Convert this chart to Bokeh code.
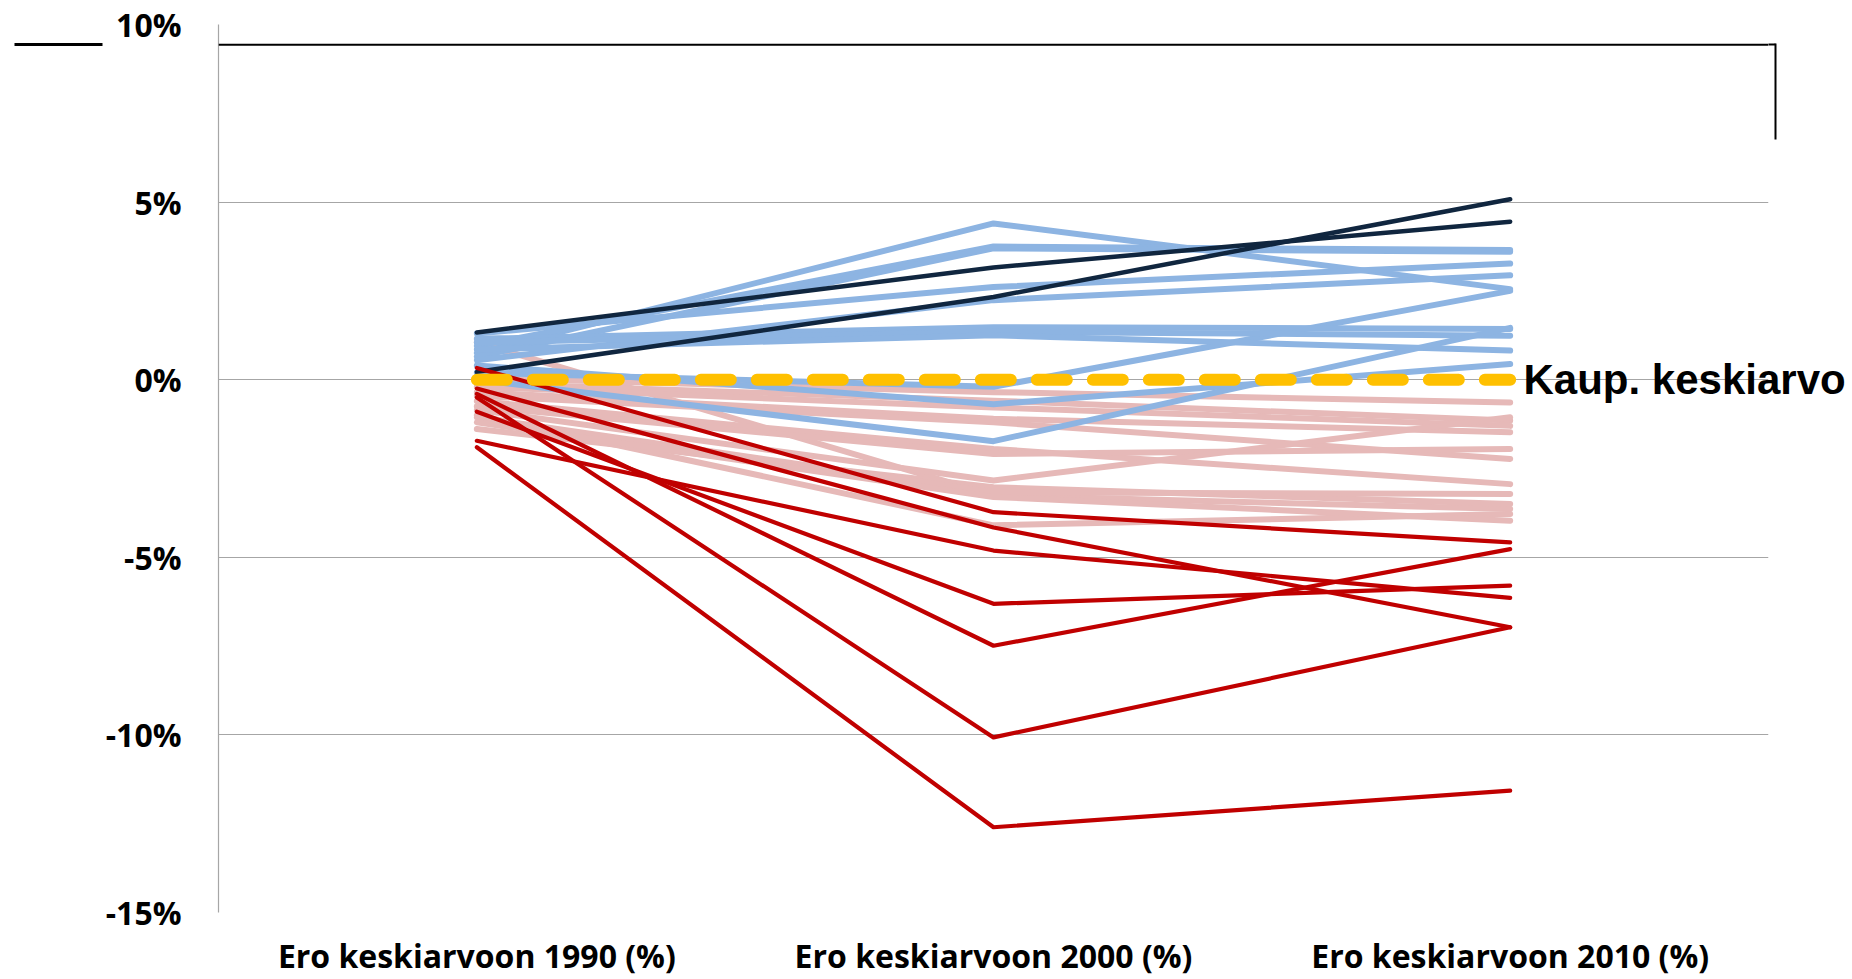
from bokeh.plotting import figure
from bokeh.models import (FactorRange, Range1d, FixedTicker, PrintfTickFormatter,
                          LinearAxis, Span)
from bokeh.embed import file_html
from bokeh.resources import INLINE

# ---------------- data ----------------
categories = ["Ero keskiarvoon 1990 (%)", "Ero keskiarvoon 2000 (%)", "Ero keskiarvoon 2010 (%)"]
y_ticks = [-15, -10, -5, 0, 5, 10]
average_label = "Kaup. keskiarvo"
average = [0.0, 0.0, 0.0]

# dark navy series (1990, 2000, 2010)
navy_series = [
    [1.33, 3.16, 4.45],
    [0.22, 2.33, 5.08],
]

# light blue series
blue_series = [
    [0.75, 4.40, 2.55],
    [0.95, 3.75, 3.65],
    [0.65, 3.70, 3.60],
    [1.30, 2.61, 3.27],
    [0.55, 2.24, 2.94],
    [0.20, -0.20, 2.50],
    [1.15, 1.48, 1.43],
    [1.05, 1.35, 1.24],
    [0.85, 1.25, 0.82],
    [0.40, -0.69, 0.44],
    [0.00, -1.73, 1.46],
]

# light red / pink series
pink_series = [
    [1.05, -3.26, -3.64],
    [0.05, -0.35, -0.64],
    [-0.10, -0.59, -1.15],
    [-0.20, -0.78, -1.30],
    [-0.35, -1.10, -1.48],
    [-0.45, -1.20, -2.23],
    [-0.60, -1.95, -2.94],
    [-0.75, -2.09, -1.95],
    [-0.85, -2.84, -1.06],
    [-1.39, -3.03, -3.50],
    [-1.06, -3.17, -3.22],
    [-1.00, -4.10, -3.78],
    [-1.20, -3.30, -3.97],
]

# dark red series
red_series = [
    [0.33, -3.73, -4.58],
    [-0.25, -4.16, -6.97],
    [-1.72, -4.81, -6.14],
    [-0.90, -6.31, -5.80],
    [-0.40, -7.49, -4.77],
    [-0.50, -10.07, -6.97],
    [-1.90, -12.60, -11.57],
]

# ---------------- figure ----------------
p = figure(
    x_range=FactorRange(*categories),
    y_range=Range1d(-15, 10),
    width=1852, height=979,
    output_backend="svg", toolbar_location=None,
    min_border_left=218, min_border_right=84,
    min_border_top=24, min_border_bottom=67,
    background_fill_color="white", border_fill_color="white",
)
p.outline_line_color = None

grid_gray = "#a6a6a6"
p.xgrid.grid_line_color = None
p.ygrid.ticker = FixedTicker(ticks=y_ticks)
p.ygrid.grid_line_color = grid_gray
p.ygrid.grid_line_width = 1.2

p.yaxis.ticker = FixedTicker(ticks=y_ticks)
p.yaxis.formatter = PrintfTickFormatter(format="%d%%")
p.yaxis.axis_line_color = grid_gray
p.yaxis.axis_line_width = 1.2
p.yaxis.major_tick_line_color = None
p.yaxis.minor_tick_line_color = None
p.yaxis.major_label_standoff = 31
p.yaxis.major_label_text_font = "Open Sans"
p.yaxis.major_label_text_font_style = "bold"
p.yaxis.major_label_text_font_size = "32px"
p.yaxis.major_label_text_color = "black"

p.xaxis.axis_line_color = None
p.xaxis.major_tick_line_color = None
p.xaxis.minor_tick_line_color = None
p.xaxis.major_label_standoff = 15
p.xaxis.major_label_text_font = "Open Sans"
p.xaxis.major_label_text_font_style = "bold"
p.xaxis.major_label_text_font_size = "32px"
p.xaxis.major_label_text_color = "black"

def draw(series, color, width):
    p.multi_line(xs=[categories] * len(series), ys=series,
                 line_color=color, line_width=width,
                 line_cap="round", line_join="round")

draw(pink_series, "#E6B9B8", 6)
draw(blue_series, "#8DB4E2", 6)
draw(navy_series, "#10263F", 4.5)
draw(red_series, "#C00000", 4.2)

p.line(x=categories, y=average, line_color="#FFC000", line_width=12,
       line_dash="30 26", line_cap="round")

# ---- decorative black rule of the source picture ----
rule_y = 9.43
p.add_layout(Span(location=rule_y, dimension="width", line_color="black", line_width=2))

def bare_axis(ticks, tick_out, tick_color, tick_width):
    return LinearAxis(ticker=FixedTicker(ticks=ticks), axis_line_color=None,
                      major_tick_line_color=tick_color, major_tick_line_width=tick_width,
                      minor_tick_line_color=None, major_tick_out=tick_out, major_tick_in=0,
                      major_label_standoff=0,
                      major_label_overrides={t: "" for t in ticks},
                      major_label_text_color=None)

# left part of the rule, outside the plot area
p.add_layout(bare_axis([rule_y], 88, "black", 3), "left")
# short continuation of the rule to the right of the plot area
p.add_layout(bare_axis([rule_y], 7, "black", 2), "right")
# vertical stroke at the right end of the rule
edge_axis = bare_axis([], 0, None, 1)
edge_axis.bounds = (6.76, rule_y + 0.03)
edge_axis.axis_line_color = "black"
edge_axis.axis_line_width = 2
p.add_layout(edge_axis, "right")

# label of the average line, as the only tick label of a right axis
avg_axis = LinearAxis(ticker=FixedTicker(ticks=[0]),
                      major_label_overrides={0: average_label},
                      axis_line_color=None,
                      major_tick_line_color=None, minor_tick_line_color=None,
                      major_tick_out=0, major_tick_in=0,
                      major_label_standoff=-252,
                      major_label_text_font="Liberation Sans",
                      major_label_text_font_style="bold",
                      major_label_text_font_size="42px",
                      major_label_text_color="black")
p.add_layout(avg_axis, "right")

open("out.html", "w").write(file_html(p, INLINE))
